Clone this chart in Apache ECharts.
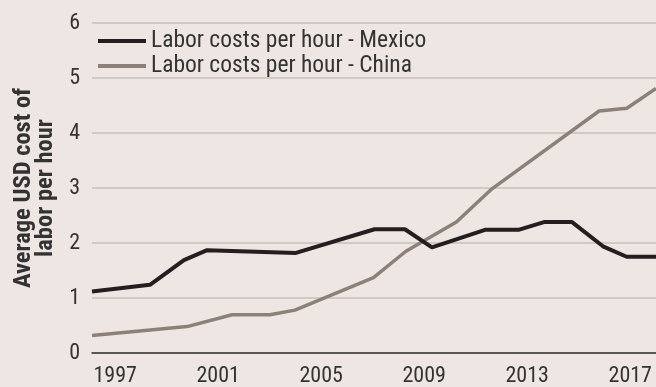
<!DOCTYPE html>
<html>
<head>
<meta charset="utf-8">
<script src="https://cdn.jsdelivr.net/npm/echarts@6/dist/echarts.min.js"></script>
<style>
html,body{margin:0;padding:0;background:#ede6e3;}
#chart{width:656px;height:387px;}
</style>
</head>
<body>
<div id="chart"></div>
<script>
// Data (x = year position, y = USD per hour)
var mexicoYears  = [1996.1, 1998.35, 1999.67, 2000.57, 2004.02, 2007.07, 2008.25, 2009.3, 2011.36, 2012.66, 2013.65, 2014.74, 2015.94, 2016.86, 2018.0];
var mexicoValues = [1.12, 1.24, 1.69, 1.87, 1.82, 2.25, 2.25, 1.92, 2.24, 2.24, 2.38, 2.38, 1.94, 1.75, 1.75];
var chinaYears   = [1996.1, 1999.79, 2001.54, 2003.01, 2003.98, 2007.03, 2008.29, 2010.25, 2011.59, 2015.79, 2016.87, 2018.0];
var chinaValues  = [0.32, 0.48, 0.695, 0.695, 0.78, 1.37, 1.85, 2.38, 2.97, 4.40, 4.45, 4.81];
var xTickLabels  = [1997, 2001, 2005, 2009, 2013, 2017];
var seriesNames  = ['Labor costs per hour - Mexico', 'Labor costs per hour - China'];
var yAxisTitle   = 'Average USD cost of\nlabor per hour';

function pairs(xs, ys){ return xs.map(function(x,i){ return [x, ys[i]]; }); }

var FONT = "'Roboto Condensed', 'DejaVu Sans Condensed', sans-serif";
var TXT = '#333333';
var chart = echarts.init(document.getElementById('chart'), null, {renderer:'canvas'});
chart.setOption({
  backgroundColor: '#ede6e3',
  animation: false,
  textStyle: {fontFamily: FONT},
  grid: {left: 92, right: 0, top: 23, bottom: 34, containLabel: false},
  legend: {
    orient: 'vertical', left: 93, top: 24, itemGap: 1,
    itemWidth: 48, itemHeight: 4, icon: 'rect',
    textStyle: {fontFamily: FONT, fontSize: 23.5, color: TXT},
    data: seriesNames
  },
  xAxis: {
    type: 'value', min: 1996.1, max: 2018,
    axisLine: {show: true, lineStyle: {color: '#333', width: 1.5}},
    axisTick: {show: false},
    splitLine: {show: false},
    axisLabel: {
      customValues: xTickLabels,
      fontFamily: FONT, fontSize: 22, color: TXT, margin: 12,
      formatter: function(v){ return String(v); }
    }
  },
  yAxis: {
    type: 'value', min: 0, max: 6, interval: 1,
    name: yAxisTitle, nameLocation: 'middle', nameGap: 35,
    nameTextStyle: {fontFamily: FONT, fontSize: 24.5, fontWeight: 'bold', color: TXT, lineHeight: 22},
    axisLine: {show: false}, axisTick: {show: false},
    splitLine: {show: true, lineStyle: {color: '#c6c0bb', width: 1.5}},
    axisLabel: {fontFamily: FONT, fontSize: 22, color: TXT, margin: 12}
  },
  series: [
    {name: seriesNames[0], type: 'line', data: pairs(mexicoYears, mexicoValues),
     showSymbol: false, symbol: 'none', lineStyle: {color: '#231f20', width: 4}, itemStyle: {color: '#231f20'}, z: 3},
    {name: seriesNames[1], type: 'line', data: pairs(chinaYears, chinaValues),
     showSymbol: false, symbol: 'none', lineStyle: {color: '#8b8178', width: 3.5}, itemStyle: {color: '#8b8178'}, z: 2}
  ]
});
</script>
</body>
</html>
